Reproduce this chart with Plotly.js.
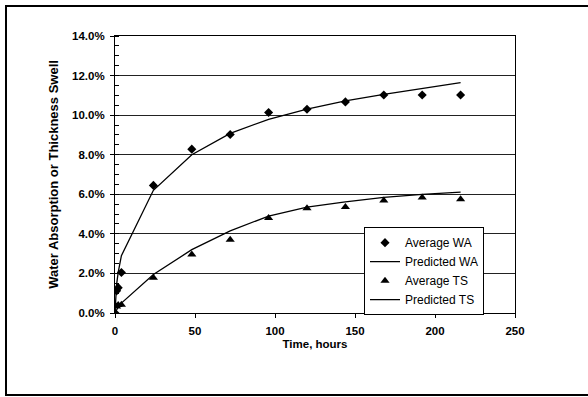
<!DOCTYPE html>
<html>
<head>
<meta charset="utf-8">
<script src="https://cdn.plot.ly/plotly-3.0.1.min.js"></script>
<style>
  html, body { margin: 0; padding: 0; background: #fff; }
  #chart { width: 588px; height: 397px; }
</style>
</head>
<body>
<div id="chart"></div>
<script>
// Time in hours
const time = [0, 1, 2, 4, 24, 48, 72, 96, 120, 144, 168, 192, 216];
// Values in percent
const averageWA   = [0, 1.12, 1.28, 2.05, 6.45, 8.28, 9.02, 10.13, 10.30, 10.67, 11.02, 11.02, 11.02];
const predictedWA = [0, 1.45, 2.05, 2.90, 6.20, 8.00, 9.08, 9.79, 10.30, 10.72, 11.05, 11.36, 11.64];
const averageTS   = [0, 0.33, 0.40, 0.42, 1.78, 2.96, 3.70, 4.80, 5.30, 5.36, 5.68, 5.84, 5.75];
const predictedTS = [0, 0.15, 0.30, 0.50, 1.95, 3.20, 4.15, 4.90, 5.35, 5.62, 5.84, 6.00, 6.11];
const seriesNames = ["Average WA", "Predicted WA", "Average TS", "Predicted TS"];

const FONT = "'Liberation Sans', Arial, sans-serif";

const traces = [
  { x: time, y: averageWA, name: seriesNames[0], type: "scatter", mode: "markers",
    marker: { symbol: "diamond", size: 7, color: "#000" } },
  { x: time, y: predictedWA, name: seriesNames[1], type: "scatter", mode: "lines",
    line: { color: "#000", width: 1.3 } },
  { x: time, y: averageTS, name: seriesNames[2], type: "scatter", mode: "markers",
    marker: { symbol: "triangle-up", size: 8, color: "#000" } },
  { x: time, y: predictedTS, name: seriesNames[3], type: "scatter", mode: "lines",
    line: { color: "#000", width: 1.3 } }
];

// outer frame (left, top, bottom edges; right edge lies beyond the page)
const fx0 = (6 - 115) / 400, fx1 = (600 - 115) / 400;
const fy0 = (313 - 395) / 277, fy1 = (313 - 6) / 277;

const layout = {
  width: 588, height: 397,
  margin: { l: 115, r: 73, t: 36, b: 84 },
  paper_bgcolor: "#fff", plot_bgcolor: "#fff",
  font: { family: FONT, color: "#000", size: 11 },
  showlegend: true,
  legend: {
    x: 0.6225, y: 0.31, xanchor: "left", yanchor: "top",
    bgcolor: "#fff", bordercolor: "#000", borderwidth: 1,
    font: { family: FONT, size: 12, color: "#000" }
  },
  xaxis: {
    range: [0, 250], dtick: 50, tick0: 0,
    showgrid: false, zeroline: false,
    showline: true, linecolor: "#000", linewidth: 1, mirror: true,
    ticks: "outside", ticklen: 4, tickcolor: "#000", ticklabelstandoff: 3,
    tickfont: { family: FONT, size: 11.5, weight: "bold" },
    title: { text: "<b>Time, hours</b>", font: { family: FONT, size: 11.5 }, standoff: 4 }
  },
  yaxis: {
    range: [0, 14], dtick: 2, tick0: 0,
    tickformat: ".1f", ticksuffix: "%",
    showgrid: true, gridcolor: "#222", gridwidth: 1,
    zeroline: false,
    showline: true, linecolor: "#000", linewidth: 1, mirror: true,
    ticks: "outside", ticklen: 4, tickcolor: "#000", ticklabelstandoff: 3,
    minor: { dtick: 0.5, ticks: "inside", ticklen: 4, tickcolor: "#000", showgrid: false },
    tickfont: { family: FONT, size: 11.5, weight: "bold" },
    title: { text: "<b>Water Absorption or Thickness Swell</b>", font: { family: FONT, size: 13 }, standoff: 10 }
  },
  shapes: [
    { type: "path", xref: "paper", yref: "paper",
      path: `M ${fx1},${fy1} L ${fx0},${fy1} L ${fx0},${fy0} L ${fx1},${fy0}`,
      line: { color: "#000", width: 2 }, layer: "below" }
  ]
};

Plotly.newPlot("chart", traces, layout, { displayModeBar: false, staticPlot: true });
</script>
</body>
</html>
